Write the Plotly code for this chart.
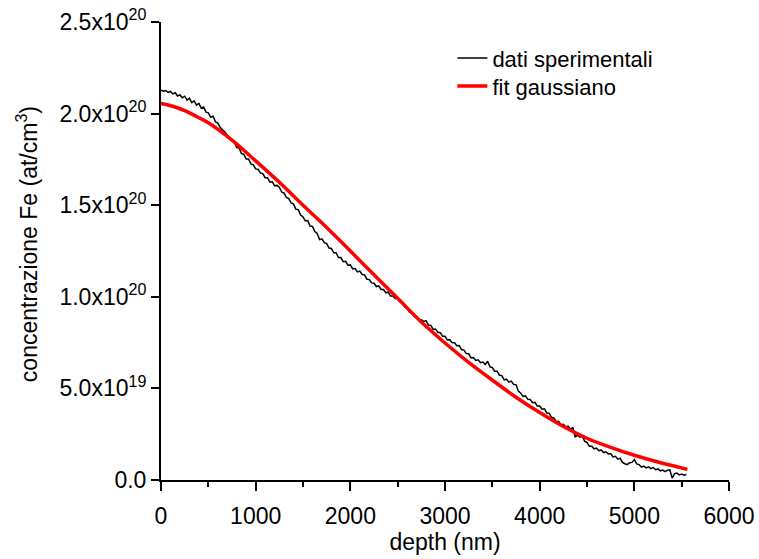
import plotly.graph_objects as go

SCALE = 1e20

# experimental data: depth grid (nm) and concentration (units of 1e20 at/cm^3)
exp_depth = list(range(0, 5575, 25))
exp_conc = [
    2.128, 2.122, 2.126, 2.116, 2.121, 2.108, 2.114, 2.096, 2.102, 2.086,
    2.095, 2.074, 2.084, 2.060, 2.070, 2.046, 2.056, 2.030, 2.036, 2.008,
    2.004, 1.980, 1.986, 1.955, 1.948, 1.925, 1.912, 1.900, 1.882, 1.870,
    1.852, 1.846, 1.815, 1.812, 1.782, 1.778, 1.752, 1.752, 1.725, 1.720,
    1.698, 1.696, 1.676, 1.672, 1.650, 1.650, 1.626, 1.628, 1.606, 1.608,
    1.598, 1.572, 1.566, 1.542, 1.536, 1.512, 1.506, 1.478, 1.476, 1.446,
    1.436, 1.414, 1.416, 1.386, 1.384, 1.356, 1.346, 1.312, 1.316, 1.296,
    1.290, 1.266, 1.264, 1.240, 1.240, 1.214, 1.214, 1.192, 1.194, 1.172,
    1.174, 1.152, 1.154, 1.136, 1.140, 1.122, 1.120, 1.096, 1.094, 1.076,
    1.074, 1.056, 1.060, 1.040, 1.040, 1.022, 1.025, 1.004, 1.004, 0.990,
    0.994, 0.972, 0.968, 0.945, 0.938, 0.916, 0.914, 0.893, 0.894, 0.872,
    0.874, 0.866, 0.870, 0.846, 0.844, 0.822, 0.824, 0.806, 0.804, 0.784,
    0.784, 0.764, 0.766, 0.750, 0.749, 0.733, 0.734, 0.712, 0.709, 0.690,
    0.689, 0.667, 0.669, 0.653, 0.656, 0.640, 0.644, 0.630, 0.648, 0.618,
    0.614, 0.594, 0.594, 0.572, 0.570, 0.546, 0.550, 0.534, 0.540, 0.522,
    0.520, 0.485, 0.474, 0.456, 0.459, 0.440, 0.439, 0.422, 0.424, 0.404,
    0.404, 0.386, 0.389, 0.366, 0.364, 0.342, 0.339, 0.320, 0.319, 0.302,
    0.304, 0.290, 0.294, 0.278, 0.286, 0.236, 0.244, 0.234, 0.240, 0.212,
    0.204, 0.184, 0.184, 0.170, 0.174, 0.160, 0.164, 0.150, 0.154, 0.142,
    0.144, 0.126, 0.129, 0.114, 0.119, 0.096, 0.089, 0.084, 0.094, 0.096,
    0.112, 0.088, 0.084, 0.070, 0.076, 0.066, 0.072, 0.062, 0.068, 0.056,
    0.061, 0.050, 0.054, 0.046, 0.054, 0.056, 0.010, 0.035, 0.038, 0.028,
    0.032, 0.026, 0.030,
]

# gaussian fit curve
fit_depth = [0, 125, 250, 375, 500, 750, 1000, 1250, 1500, 1750, 2000, 2250, 2500, 2750,
             3000, 3250, 3500, 3750, 4000, 4250, 4500, 4750, 5000, 5250, 5560]
fit_conc = [2.056, 2.040, 2.016, 1.984, 1.950, 1.855, 1.742, 1.625, 1.500, 1.378, 1.250,
            1.120, 0.992, 0.862, 0.748, 0.642, 0.545, 0.452, 0.368, 0.292, 0.228, 0.178,
            0.135, 0.098, 0.058]

y_tickvals = [0.0, 0.5, 1.0, 1.5, 2.0, 2.5]
y_ticktext = ["0.0", "5.0x10<sup>19</sup>", "1.0x10<sup>20</sup>", "1.5x10<sup>20</sup>",
              "2.0x10<sup>20</sup>", "2.5x10<sup>20</sup>"]

FONT = "Liberation Sans, Arial, sans-serif"

fig = go.Figure()
fig.add_trace(go.Scatter(
    x=exp_depth, y=[v * SCALE for v in exp_conc], mode="lines",
    name="dati sperimentali", line=dict(color="black", width=1.5), legend="legend"))
fig.add_trace(go.Scatter(
    x=fit_depth, y=[v * SCALE for v in fit_conc], mode="lines",
    name="fit gaussiano", line=dict(color="#ff0000", width=3.5, shape="spline"),
    legend="legend2"))

leg_common = dict(xanchor="left", yanchor="middle", bgcolor="rgba(0,0,0,0)",
                  font=dict(size=22), itemwidth=30)

fig.update_layout(
    width=759, height=559,
    margin=dict(l=161, r=30, t=22, b=79, autoexpand=False),
    paper_bgcolor="white", plot_bgcolor="white",
    font=dict(family=FONT, size=23, color="black"),
    showlegend=True,
    legend=dict(x=0.513, y=0.921, **leg_common),
    legend2=dict(x=0.513, y=0.860, **leg_common),
    annotations=[dict(
        text="concentrazione Fe (at/cm<sup>3</sup>)", textangle=-90,
        xref="paper", yref="paper", x=(27 - 161) / 568, y=0.515,
        xanchor="center", yanchor="middle", showarrow=False,
        font=dict(size=23))],
)
fig.update_xaxes(
    range=[0, 6000], tickmode="linear", tick0=0, dtick=1000,
    showline=True, linecolor="black", linewidth=2, mirror=False,
    ticks="outside", ticklen=9, tickwidth=2, tickcolor="black",
    minor=dict(ticks="outside", ticklen=5, tickwidth=2, tickcolor="black", dtick=500),
    showgrid=False, zeroline=False, automargin=False, ticklabelstandoff=5,
    title=dict(text="depth (nm)", font=dict(size=23), standoff=6),
    tickfont=dict(size=23),
)
fig.update_yaxes(
    range=[0, 2.5 * SCALE], tickmode="array",
    tickvals=[v * SCALE for v in y_tickvals], ticktext=y_ticktext,
    showline=True, linecolor="black", linewidth=2, mirror=False,
    ticks="outside", ticklen=8, tickwidth=2, tickcolor="black",
    showgrid=False, zeroline=False, automargin=False,
    tickfont=dict(size=23),
)

fig.write_html("out.html")
